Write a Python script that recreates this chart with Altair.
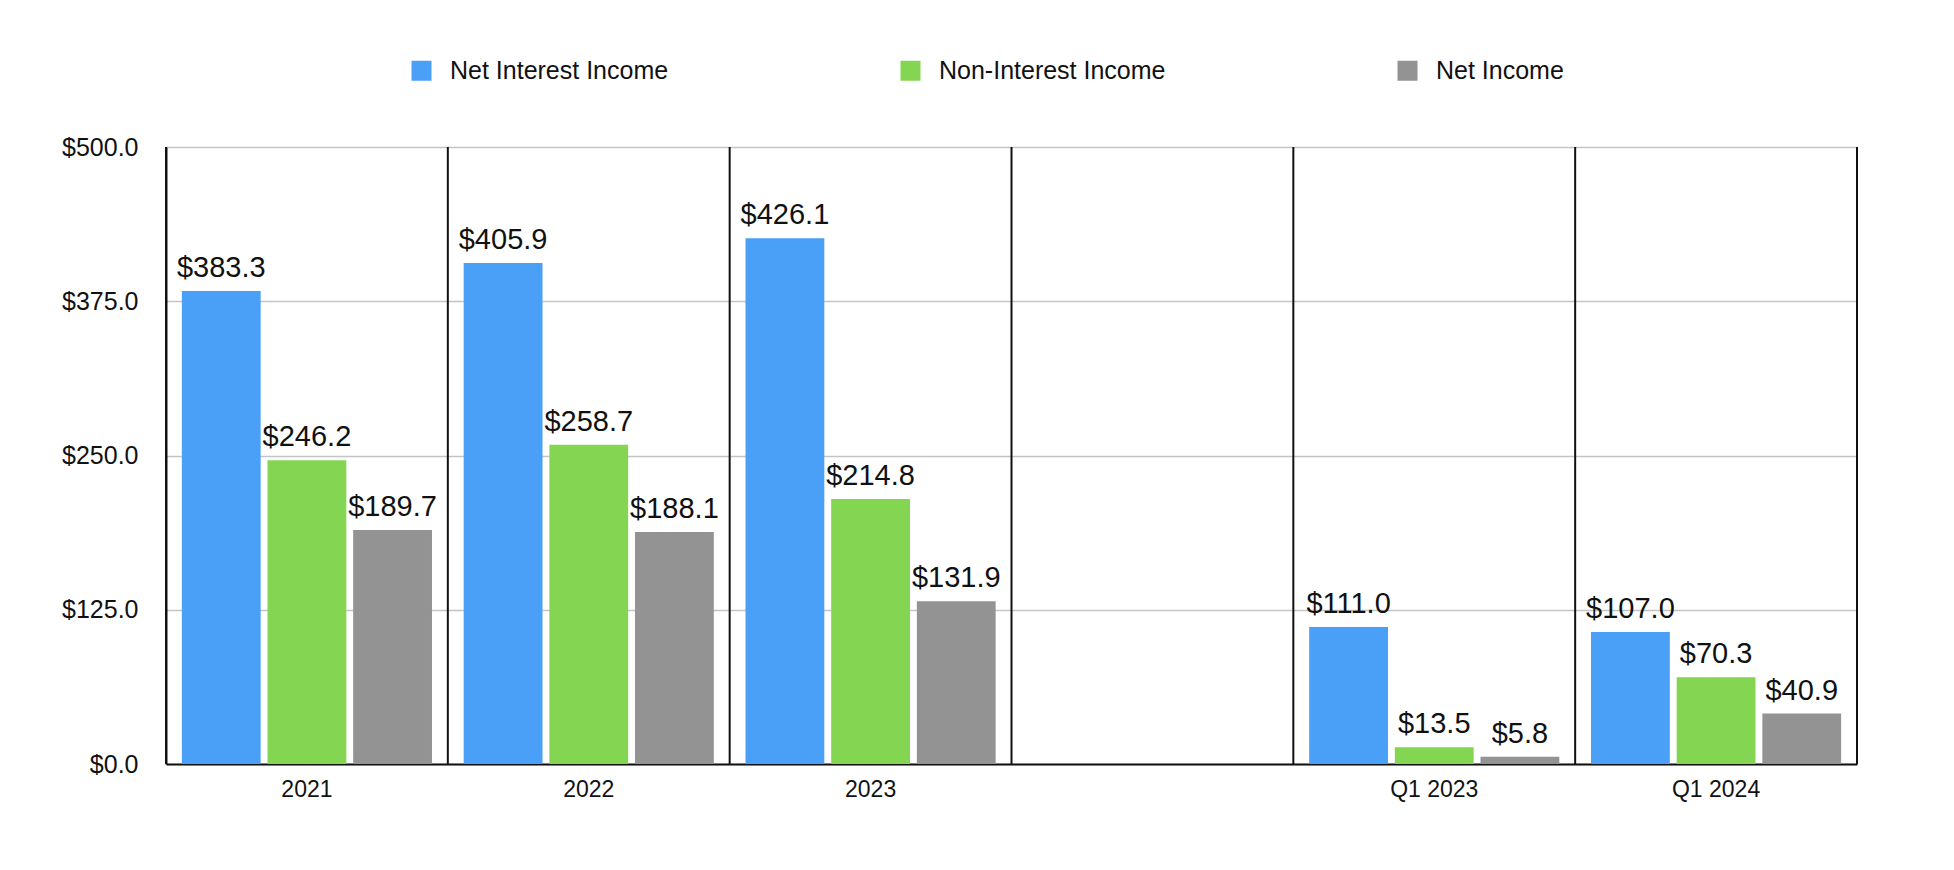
import altair as alt
import pandas as pd

categories = ["2021", "2022", "2023", " ", "Q1 2023", "Q1 2024"]
series = ["Net Interest Income", "Non-Interest Income", "Net Income"]
bar_periods = ["2021", "2022", "2023", "Q1 2023", "Q1 2024"]
net_interest = [383.3, 405.9, 426.1, 111.0, 107.0]
non_interest = [246.2, 258.7, 214.8, 13.5, 70.3]
net_income = [189.7, 188.1, 131.9, 5.8, 40.9]
colors = ["#4a9ff6", "#83d552", "#939393"]
y_ticks = [0, 125, 250, 375, 500]

rows = []
for name, vals in zip(series, [net_interest, non_interest, net_income]):
    for p, v in zip(bar_periods, vals):
        rows.append({"period": p, "series": name, "value": v})
df = pd.DataFrame(rows)
sep_df = pd.DataFrame({"period": categories})
end_df = pd.DataFrame({"period": [categories[-1]]})

FONT = "Liberation Sans"
W, H = 1691, 617

x_scale = alt.Scale(domain=categories, paddingInner=0, paddingOuter=0)
y_scale = alt.Scale(domain=[0, 500])

x_enc = alt.X(
    "period:N",
    scale=x_scale,
    axis=alt.Axis(
        title=None, labelAngle=0, ticks=False, grid=False,
        domainColor="#111111", domainWidth=2,
        labelFontSize=23, labelPadding=14, labelColor="#111111",
    ),
)
y_enc = alt.Y(
    "value:Q",
    scale=y_scale,
    axis=alt.Axis(
        title=None, values=y_ticks, format="$.1f", ticks=False,
        domainColor="#111111", domainWidth=2,
        gridColor="#c4c4c4", gridWidth=1.5,
        labelFontSize=25, labelPadding=28, labelColor="#111111",
    ),
)
xoff = alt.XOffset(
    "series:N",
    scale=alt.Scale(domain=series, paddingInner=0.08, paddingOuter=0.185),
)

bars = alt.Chart(df).mark_bar().encode(
    x=x_enc,
    xOffset=xoff,
    y=y_enc,
    color=alt.Color(
        "series:N",
        scale=alt.Scale(domain=series, range=colors),
        legend=alt.Legend(
            orient="none", legendX=243, legendY=-89, direction="horizontal",
            title=None, symbolType="square", symbolSize=400,
            symbolStrokeWidth=0, symbolOpacity=1, labelFontSize=25,
            labelOffset=16, columnPadding=229, labelColor="#111111",
            labelLimit=1000,
        ),
    ),
)

labels = alt.Chart(df).mark_text(
    baseline="bottom", dy=-8, fontSize=29, color="#111111"
).encode(
    x=alt.X("period:N", scale=x_scale),
    xOffset=xoff,
    y=alt.Y("value:Q", scale=y_scale),
    text=alt.Text("value:Q", format="$.1f"),
)

seps = alt.Chart(sep_df).mark_rule(color="#111111", strokeWidth=2).encode(
    x=alt.X("period:N", scale=x_scale, bandPosition=0),
    y=alt.datum(0, scale=y_scale),
    y2=alt.datum(500),
)
end_rule = alt.Chart(end_df).mark_rule(color="#111111", strokeWidth=2).encode(
    x=alt.X("period:N", scale=x_scale, bandPosition=1),
    y=alt.datum(0, scale=y_scale),
    y2=alt.datum(500),
)

chart = alt.layer(bars, seps, end_rule, labels).properties(
    width=W, height=H,
    autosize=alt.AutoSizeParams(type="none"),
    padding={"left": 166, "top": 147, "right": 97, "bottom": 106},
).configure(font=FONT).configure_view(stroke=None)

chart.save("out.html", embed_options={"renderer": "svg", "actions": False})
